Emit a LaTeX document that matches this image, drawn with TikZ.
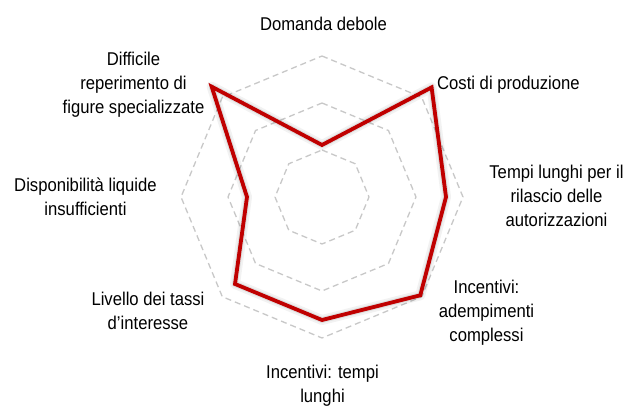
\documentclass[tikz,border=0pt]{standalone}
\usepackage{fontspec}
\setmainfont{Liberation Sans}[FakeStretch=0.9]
\definecolor{redline}{HTML}{C00000}
\definecolor{gridgray}{HTML}{C8C8C8}
\begin{document}
\begin{tikzpicture}[x=1pt,y=1pt,
  lbl/.style={font=\fontsize{18.5}{24}\selectfont, align=center, inner sep=0pt, text=black},
  gridring/.style={draw=gridgray, line width=1.3pt, dash pattern=on 6pt off 4pt, line join=miter},
  dataline/.style={draw=redline, line width=3.8pt, line join=miter, miter limit=6},
  shadowline/.style={draw=black, line join=round}]
\useasboundingbox (0,0) rectangle (630,405);
\fill[white] (0,0) rectangle (630,405);
\begin{scope}[shift={(322,208)}]
  % grid rings
  \foreach \r/\n in {47/a,94/b,141/c}{
    \foreach \k in {0,...,7}{
      \coordinate (g\n\k) at ({90-45*\k}:\r);
    }
    \draw[gridring] (g\n0) -- (g\n1) -- (g\n2) -- (g\n3) -- (g\n4) -- (g\n5) -- (g\n6) -- (g\n7) -- cycle;
  }
  % data points
  \coordinate (p0) at (90:52);
  \coordinate (p1) at (45:155);
  \coordinate (p2) at (0:124);
  \coordinate (p3) at (-45:139);
  \coordinate (p4) at (-90:123);
  \coordinate (p5) at (-135:123);
  \coordinate (p6) at (180:75);
  \coordinate (p7) at (135:156);
  % shadow
  \begin{scope}[shift={(2.5,-3.5)}]
    \draw[shadowline, line width=10pt, opacity=0.05] (p0) -- (p1) -- (p2) -- (p3) -- (p4) -- (p5) -- (p6) -- (p7) -- cycle;
    \draw[shadowline, line width=6pt, opacity=0.08] (p0) -- (p1) -- (p2) -- (p3) -- (p4) -- (p5) -- (p6) -- (p7) -- cycle;
    \draw[shadowline, line width=3pt, opacity=0.10] (p0) -- (p1) -- (p2) -- (p3) -- (p4) -- (p5) -- (p6) -- (p7) -- cycle;
  \end{scope}
  \draw[dataline] (p0) -- (p1) -- (p2) -- (p3) -- (p4) -- (p5) -- (p6) -- (p7) -- cycle;
\end{scope}
% labels
\node[lbl] (l0) at (323.5,379.2) {\strut Domanda debole};
\node[lbl, anchor=west] (l1) at (437,320.2) {\strut Costi di produzione};
\node[lbl] (l2) at (556.5,207.2) {\strut Tempi lunghi per il\\\strut rilascio delle\\\strut autorizzazioni};
\node[lbl] (l3) at (486.5,92.2) {\strut Incentivi:\\\strut adempimenti\\\strut complessi};
\node[lbl] (l4) at (322.5,19.2) {\strut Incentivi: tempi\\\strut lunghi};
\node[lbl] (l5) at (148,92.2) {\strut Livello dei tassi\\\strut d’interesse};
\node[lbl] (l6) at (85.5,206.2) {\strut Disponibilità liquide\\\strut insufficienti};
\node[lbl] (l7) at (133.5,320.5) {\strut Difficile\\\strut reperimento di\\\strut figure specializzate};
\end{tikzpicture}
\end{document}
